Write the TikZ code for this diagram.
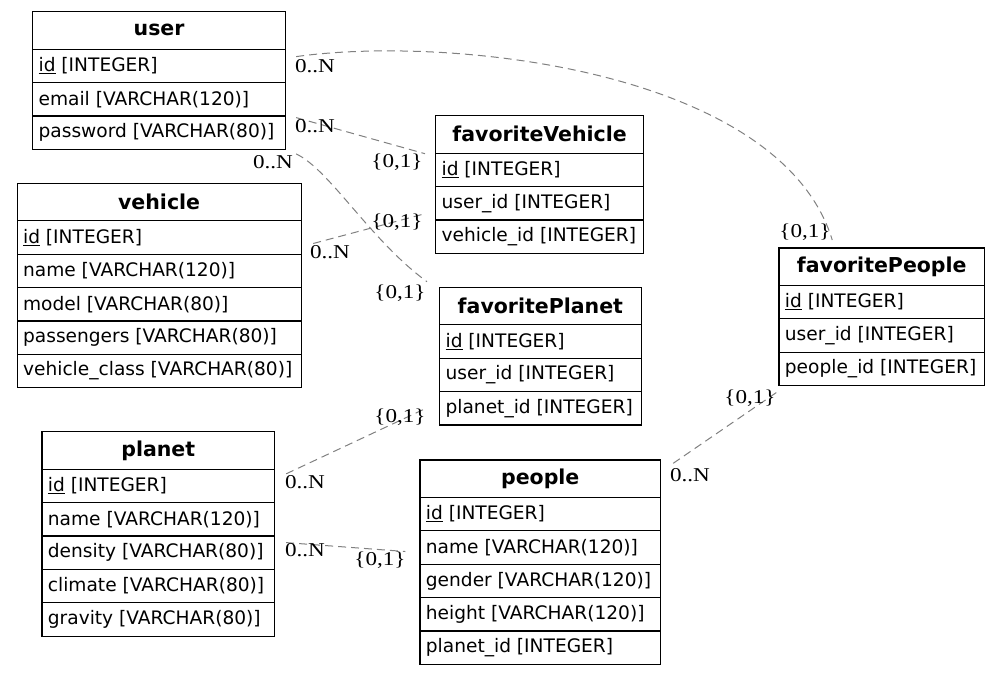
\documentclass[tikz,border=0pt]{standalone}
\usepackage{fontspec}
\setmainfont{Liberation Serif}
\newfontfamily\dvsans{DejaVu Sans}
\newfontfamily\lblfont[FakeStretch=1.18]{Liberation Serif}
\newcommand\hdfont{\dvsans\bfseries\fontsize{20.5}{24}\selectfont}
\newcommand\rwfont{\dvsans\fontsize{18.6}{22}\selectfont}
\newcommand\cardfont{\lblfont\fontsize{19.6}{22}\selectfont}
\newcommand\erc[2]{\makebox[#1pt][l]{\raisebox{1.2pt}{#2}}}
\definecolor{edgegray}{HTML}{808080}
\begin{document}
\begin{tikzpicture}[x=1pt,y=-1pt,
  hd/.style={draw, line width=1.2pt, anchor=north west, inner sep=0pt, minimum height=37.5pt, minimum width=#1pt, font=\hdfont},
  rw/.style={draw, line width=1.2pt, anchor=north west, inner xsep=6pt, inner ysep=0pt, minimum height=33.4pt, font=\rwfont},
  rel/.style={draw=edgegray, dash pattern=on 8pt off 5pt, line width=1pt},
  card/.style={font=\cardfont, inner sep=0pt}]
\useasboundingbox (0,0) rectangle (1000,673);

% user
\node[hd=253] (u) at (32,11) {user};
\node[rw] (u1) at (32,48.5) {\erc{241}{\underline{id} [INTEGER]}};
\node[rw] (u2) at (32,81.9) {\erc{241}{email [VARCHAR(120)]}};
\node[rw] (u3) at (32,115.3) {\erc{241}{password [VARCHAR(80)]}};

% vehicle
\node[hd=284] (v) at (16.5,182.7) {vehicle};
\node[rw] (v1) at (16.5,220.2) {\erc{272}{\underline{id} [INTEGER]}};
\node[rw] (v2) at (16.5,253.6) {\erc{272}{name [VARCHAR(120)]}};
\node[rw] (v3) at (16.5,287.0) {\erc{272}{model [VARCHAR(80)]}};
\node[rw] (v4) at (16.5,320.4) {\erc{272}{passengers [VARCHAR(80)]}};
\node[rw] (v5) at (16.5,353.8) {\erc{272}{vehicle\_class [VARCHAR(80)]}};

% favoriteVehicle
\node[hd=208] (fv) at (435,115) {favoriteVehicle};
\node[rw] (fv1) at (435,152.5) {\erc{196}{\underline{id} [INTEGER]}};
\node[rw] (fv2) at (435,185.9) {\erc{196}{user\_id [INTEGER]}};
\node[rw] (fv3) at (435,219.3) {\erc{196}{vehicle\_id [INTEGER]}};

% favoritePlanet
\node[hd=201.5] (fp) at (439,286.7) {favoritePlanet};
\node[rw] (fp1) at (439,324.2) {\erc{189.5}{\underline{id} [INTEGER]}};
\node[rw] (fp2) at (439,357.6) {\erc{189.5}{user\_id [INTEGER]}};
\node[rw] (fp3) at (439,391.0) {\erc{189.5}{planet\_id [INTEGER]}};

% favoritePeople
\node[hd=205.7] (fpe) at (778.3,247.3) {favoritePeople};
\node[rw] (fpe1) at (778.3,284.8) {\erc{193.7}{\underline{id} [INTEGER]}};
\node[rw] (fpe2) at (778.3,318.2) {\erc{193.7}{user\_id [INTEGER]}};
\node[rw] (fpe3) at (778.3,351.6) {\erc{193.7}{people\_id [INTEGER]}};

% planet
\node[hd=232.7] (p) at (41.3,431) {planet};
\node[rw] (p1) at (41.3,468.5) {\erc{220.7}{\underline{id} [INTEGER]}};
\node[rw] (p2) at (41.3,501.9) {\erc{220.7}{name [VARCHAR(120)]}};
\node[rw] (p3) at (41.3,535.3) {\erc{220.7}{density [VARCHAR(80)]}};
\node[rw] (p4) at (41.3,568.7) {\erc{220.7}{climate [VARCHAR(80)]}};
\node[rw] (p5) at (41.3,602.1) {\erc{220.7}{gravity [VARCHAR(80)]}};

% people
\node[hd=240.7] (pe) at (419.3,459.3) {people};
\node[rw] (pe1) at (419.3,496.8) {\erc{228.7}{\underline{id} [INTEGER]}};
\node[rw] (pe2) at (419.3,530.2) {\erc{228.7}{name [VARCHAR(120)]}};
\node[rw] (pe3) at (419.3,563.6) {\erc{228.7}{gender [VARCHAR(120)]}};
\node[rw] (pe4) at (419.3,597.0) {\erc{228.7}{height [VARCHAR(120)]}};
\node[rw] (pe5) at (419.3,630.4) {\erc{228.7}{planet\_id [INTEGER]}};

% relations
\draw[rel] ([shift={(10,-9.2)}]u1.east) .. controls (450,35) and (780,70) .. ([shift={(-49.5,-7.3)}]fpe.north);
\draw[rel] ([shift={(10,-15)}]u3.east) -- ([shift={(-10,0)}]fv.south west);
\draw[rel] ([shift={(10,4)}]u3.south east) .. controls (330,170) and (370,240) .. ([shift={(-12,-5)}]fp.north west);
\draw[rel] ([shift={(11.5,6)}]v1.east) -- ([shift={(-10,10.5)}]fv2.west);
\draw[rel] ([shift={(11,-12)}]p1.east) -- ([shift={(-13,0)}]fp3.west);
\draw[rel] ([shift={(11,-10)}]p3.east) -- ([shift={(-14,4)}]pe2.west);
\draw[rel] ([shift={(12,4)}]pe.north east) -- ([shift={(0,5)}]fpe3.south west);

% cardinalities
\node[card] (c1a) at (315,66) {0..N};
\node[card] (c1b) at (805,232) {\{0,1\}};
\node[card] (c2a) at (315,126) {0..N};
\node[card] (c2b) at (397,162) {\{0,1\}};
\node[card] (c3a) at (273,162) {0..N};
\node[card] (c3b) at (400,293) {\{0,1\}};
\node[card] (c4a) at (330,252) {0..N};
\node[card] (c4b) at (397,222) {\{0,1\}};
\node[card] (c5a) at (305,482) {0..N};
\node[card] (c5b) at (400,417) {\{0,1\}};
\node[card] (c6a) at (305,550) {0..N};
\node[card] (c6b) at (380,560) {\{0,1\}};
\node[card] (c7a) at (690,475) {0..N};
\node[card] (c7b) at (750,398) {\{0,1\}};
\end{tikzpicture}
\end{document}
